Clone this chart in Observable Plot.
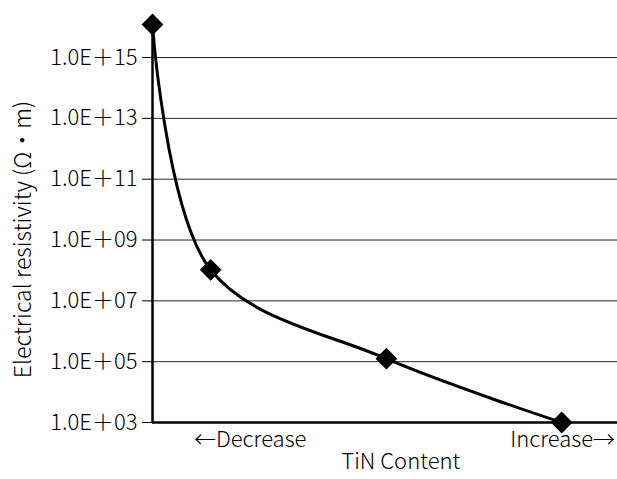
<!DOCTYPE html>
<html>
<head>
<meta charset="utf-8">
<script src="https://cdn.jsdelivr.net/npm/d3@7"></script>
<script src="https://cdn.jsdelivr.net/npm/@observablehq/plot@0.6"></script>
<style>
  html, body { margin: 0; padding: 0; background: #fff; }
  #chart svg { display: block; }
</style>
</head>
<body>
<div id="chart"></div>
<script>
// TiN content (relative position, arbitrary units: decrease → increase)
const tinContent = [0, 12.5, 50.3, 88];
// Electrical resistivity (Ω·m)
const resistivity = [1.22e16, 1.05e8, 1.25e5, 1.0e3];
// Y tick values
const yTicks = [1e3, 1e5, 1e7, 1e9, 1e11, 1e13, 1e15];
// X direction labels
const xDirLabels = ["←Decrease", "Increase→"];
const xDirPos = [21, 88.2];
const xTitle = "TiN Content";
const yTitle = "Electrical resistivity (Ω・m)";

const data = tinContent.map((x, i) => ({x, y: resistivity[i]}));
const dirData = xDirLabels.map((t, i) => ({t, x: xDirPos[i]}));

const font = "'Noto Sans CJK JP', 'Noto Sans', sans-serif";

const chart = Plot.plot({
  width: 617,
  height: 479,
  marginLeft: 152,
  marginRight: 0,
  marginTop: 24,
  marginBottom: 57,
  style: {fontFamily: font, fontSize: "22px", fontWeight: 300, color: "#000", background: "#fff", overflow: "visible"},
  x: {domain: [0, 100], axis: null},
  y: {type: "log", domain: [1e3, 1.22e16]},
  marks: [
    Plot.ruleY(yTicks.slice(1), {x1: 0, x2: 100, stroke: "#000", strokeWidth: 1, strokeOpacity: 0.85}),
    Plot.axisY({
      ticks: yTicks,
      tickSize: 10,
      tickPadding: 5,
      tickFormat: d => "1.0E＋" + String(Math.round(Math.log10(d))).padStart(2, "0"),
      label: null,
      fontSize: 22,
      stroke: "#000",
      strokeOpacity: 1
    }),
    Plot.ruleX([0], {stroke: "#000", strokeWidth: 2.5}),
    Plot.ruleY([1e3], {x1: 0, x2: 100, stroke: "#000", strokeWidth: 2.5}),
    Plot.line(data, {x: "x", y: "y", curve: "catmull-rom", stroke: "#000", strokeWidth: 3}),
    Plot.dot(data, {x: "x", y: "y", symbol: "diamond2", r: 9.8, fill: "#000", stroke: "none"}),
    Plot.text(dirData, {x: "x", frameAnchor: "bottom", dy: 24, text: "t", fontSize: 22, fill: "#000"}),
    Plot.text([xTitle], {x: 53.4, frameAnchor: "bottom", dy: 46, text: d => d, fontSize: 22, fill: "#000"}),
    Plot.text([yTitle], {frameAnchor: "left", textAnchor: "middle", dx: -129, dy: 16, rotate: -90, text: d => d, fontSize: 23, fill: "#000"})
  ]
});
document.getElementById("chart").append(chart);
</script>
</body>
</html>
